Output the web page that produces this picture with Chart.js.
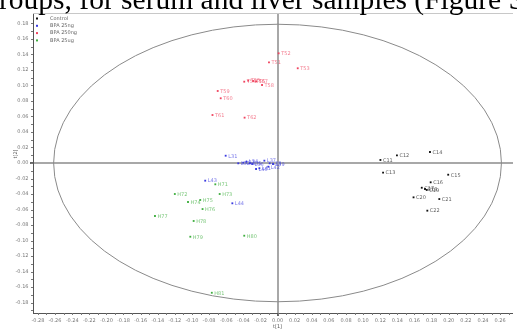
<!DOCTYPE html>
<html>
<head>
<meta charset="utf-8">
<script src="https://cdn.jsdelivr.net/npm/chart.js@4.4.1/dist/chart.umd.min.js"></script>
<style>
  html, body { margin: 0; padding: 0; background: #fff; overflow: hidden; }
  #wrap { position: relative; width: 517px; height: 329px; overflow: hidden; }
  #cap { position: absolute; left: -1px; top: -15px; white-space: nowrap; line-height: 29.5px;
         font-family: "Liberation Serif", "Times New Roman", serif; font-size: 29.5px; color: #000; }
  canvas { position: absolute; left: 0; top: 0; }
</style>
</head>
<body>
<div id="wrap">
  <canvas id="c" width="517" height="329"></canvas>
  <div id="cap">roups, for serum and liver samples (Figure S</div>
</div>
<script>
// ---- data (scores t[1], t[2]) ----
const categories = ["Control", "BPA 25ng", "BPA 250ng", "BPA 25ug"];

const controlX = [0.1395, 0.1202, 0.1781, 0.1233, 0.1994, 0.1789, 0.1685, 0.1723, 0.1743, 0.1589, 0.1890, 0.1750];
const controlY = [0.0099, 0.0039, 0.0142, -0.0125, -0.0151, -0.0249, -0.0319, -0.0335, -0.0348, -0.0443, -0.0465, -0.0615];
const controlIds = ["C12", "C11", "C14", "C13", "C15", "C16", "C17", "C18", "C19", "C20", "C21", "C22"];

const lowX = [-0.0606, -0.0459, -0.0401, -0.0363, -0.0323, -0.0297, -0.0154, -0.0092, -0.0053, -0.0251, -0.0212, -0.0108, -0.0845, -0.0528];
const lowY = [0.0094, -0.0004, 0.0004, 0.0017, -0.0004, -0.0013, 0.0030, -0.0004, -0.0013, -0.0077, -0.0068, -0.0048, -0.0228, -0.0520];
const lowIds = ["L31", "L32", "L33", "L34", "L35", "L36", "L37", "L38", "L39", "L40", "L41", "L42", "L43", "L44"];

const midX = [0.0013, -0.0100, 0.0236, -0.0389, -0.0343, -0.0285, -0.0250, -0.0181, -0.0699, -0.0664, -0.0760, -0.0385];
const midY = [0.1415, 0.1299, 0.1222, 0.1049, 0.1062, 0.1058, 0.1052, 0.1006, 0.0929, 0.0835, 0.0619, 0.0585];
const midIds = ["T52", "T51", "T53", "T54", "T55", "T56", "T57", "T58", "T59", "T60", "T61", "T62"];

const highX = [-0.0727, -0.1200, -0.0676, -0.1046, -0.0903, -0.0876, -0.1432, -0.0980, -0.1019, -0.0389, -0.0768];
const highY = [-0.0275, -0.0400, -0.0400, -0.0503, -0.0477, -0.0594, -0.0684, -0.0748, -0.0951, -0.0938, -0.1674];
const highIds = ["H71", "H72", "H73", "H74", "H75", "H76", "H77", "H78", "H79", "H80", "H81"];

const xTickValues = [-0.28, -0.26, -0.24, -0.22, -0.20, -0.18, -0.16, -0.14, -0.12, -0.10, -0.08, -0.06, -0.04, -0.02,
                     0.00, 0.02, 0.04, 0.06, 0.08, 0.10, 0.12, 0.14, 0.16, 0.18, 0.20, 0.22, 0.24, 0.26];
const yTickValues = [-0.18, -0.16, -0.14, -0.12, -0.10, -0.08, -0.06, -0.04, -0.02,
                     0.00, 0.02, 0.04, 0.06, 0.08, 0.10, 0.12, 0.14, 0.16, 0.18];
const ellipseRadii = [0.2616, 0.179];  // Hotelling T2 (95%) ellipse semi-axes
const axisTitles = ["t[1]", "t[2]"];

const colors = ["#111111", "#3a3ae0", "#f0445f", "#3fae3f"];

function pts(xs, ys, ids) { return xs.map((x, i) => ({ x: x, y: ys[i], id: ids[i] })); }
const seriesData = [pts(controlX, controlY, controlIds), pts(lowX, lowY, lowIds),
                    pts(midX, midY, midIds), pts(highX, highY, highIds)];

const extras = {
  id: 'extras',
  beforeDatasetsDraw(chart) {
    const { ctx, chartArea: a, scales: { x, y } } = chart;
    ctx.save();
    // top frame line
    ctx.strokeStyle = '#c8c8c8'; ctx.lineWidth = 1;
    ctx.beginPath(); ctx.moveTo(a.left, a.top + 0.5); ctx.lineTo(a.right, a.top + 0.5); ctx.stroke();
    // ellipse
    const cx = x.getPixelForValue(0), cy = y.getPixelForValue(0);
    const rx = x.getPixelForValue(ellipseRadii[0]) - cx, ry = cy - y.getPixelForValue(ellipseRadii[1]);
    ctx.strokeStyle = '#8a8a8a'; ctx.lineWidth = 1;
    ctx.beginPath(); ctx.ellipse(cx, cy, rx, ry, 0, 0, Math.PI * 2); ctx.stroke();
    // minor ticks
    ctx.strokeStyle = '#777';
    ctx.beginPath();
    for (let v = -0.29; v <= 0.28; v += 0.01) {
      const px = Math.round(x.getPixelForValue(v)) + 0.5;
      if (px < a.left || px > a.right) continue;
      ctx.moveTo(px, a.bottom); ctx.lineTo(px, a.bottom + 2);
    }
    for (let v = -0.19; v <= 0.19; v += 0.01) {
      const py = Math.round(y.getPixelForValue(v)) + 0.5;
      if (py < a.top || py > a.bottom) continue;
      ctx.moveTo(a.left, py); ctx.lineTo(a.left - 2, py);
    }
    ctx.stroke();
    ctx.restore();
  },
  afterDatasetsDraw(chart) {
    const { ctx } = chart;
    ctx.save();
    // point labels
    ctx.font = '5px "DejaVu Sans"';
    ctx.textBaseline = 'middle';
    chart.data.datasets.forEach((ds, di) => {
      const meta = chart.getDatasetMeta(di);
      ctx.fillStyle = ds.borderColor;
      ctx.globalAlpha = 0.7;
      meta.data.forEach((el, i) => {
        ctx.fillText(ds.data[i].id, el.x + 2.5, el.y + 0.5);
      });
    });
    ctx.globalAlpha = 1;
    // legend
    ctx.font = '5px "DejaVu Sans"';
    chart.data.datasets.forEach((ds, di) => {
      const ly = 18.5 + di * 7.3;
      ctx.fillStyle = ds.borderColor;
      ctx.fillRect(36, ly - 1, 2, 2);
      ctx.fillStyle = '#666';
      ctx.fillText(ds.label, 50, ly);
    });
    // axis titles
    ctx.fillStyle = '#555';
    ctx.textAlign = 'center';
    ctx.fillText(axisTitles[0], chart.scales.x.getPixelForValue(0), 327);
    ctx.translate(16, 154); ctx.rotate(-Math.PI / 2);
    ctx.fillText(axisTitles[1], 0, 0);
    ctx.restore();
  }
};

new Chart(document.getElementById('c'), {
  type: 'scatter',
  data: {
    datasets: categories.map((name, i) => ({
      label: name,
      data: seriesData[i],
      backgroundColor: colors[i],
      borderColor: colors[i],
      pointStyle: 'rect',
      pointRadius: 1.3,
      borderWidth: 0
    }))
  },
  options: {
    responsive: false,
    animation: false,
    events: [],
    layout: { padding: { top: 13, right: 0, left: 0, bottom: 0 } },
    plugins: { legend: { display: false }, tooltip: { enabled: false } },
    scales: {
      x: {
        type: 'linear', min: -0.2857, max: 0.2751,
        afterBuildTicks: s => { s.ticks = xTickValues.map(v => ({ value: v })); },
        afterFit: s => { s.height = 16; },
        border: { color: '#555', width: 1 },
        grid: {
          color: c => (c.tick && Math.abs(c.tick.value) < 1e-9) ? '#a8a8a8' : 'rgba(0,0,0,0)',
          lineWidth: c => (c.tick && Math.abs(c.tick.value) < 1e-9) ? 2 : 0,
          tickColor: '#666', tickLength: 3, drawTicks: true
        },
        ticks: {
          autoSkip: false, maxRotation: 0, padding: 1.5,
          font: { size: 5, family: 'DejaVu Sans' }, color: '#777',
          callback: v => v.toFixed(2)
        }
      },
      y: {
        type: 'linear', min: -0.1935, max: 0.1935,
        afterBuildTicks: s => { s.ticks = yTickValues.map(v => ({ value: v })); },
        afterFit: s => { s.width = 33; },
        border: { color: '#555', width: 1 },
        grid: {
          color: c => (c.tick && Math.abs(c.tick.value) < 1e-9) ? '#a8a8a8' : 'rgba(0,0,0,0)',
          lineWidth: c => (c.tick && Math.abs(c.tick.value) < 1e-9) ? 2 : 0,
          tickColor: '#666', tickLength: 3, drawTicks: true
        },
        ticks: {
          autoSkip: false, padding: 1.5,
          font: { size: 5, family: 'DejaVu Sans' }, color: '#777',
          callback: v => v.toFixed(2)
        }
      }
    }
  },
  plugins: [extras]
});
</script>
</body>
</html>
